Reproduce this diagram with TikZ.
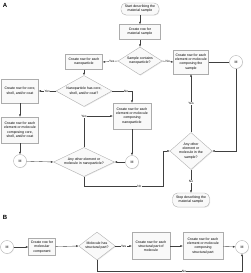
\documentclass[tikz,border=0pt]{standalone}
\usepackage{fontspec}
\setmainfont{Liberation Sans}
\usetikzlibrary{shapes.geometric,arrows.meta,shadows}
\begin{document}
\begin{tikzpicture}[x=1pt,y=-1pt,
  font=\fontsize{3.5}{4.1}\selectfont,
  shp/.style={draw=gray!65, fill=gray!5, line width=0.35pt, align=center, inner sep=0pt,
    drop shadow={opacity=0.18, shadow xshift=0.7pt, shadow yshift=-0.7pt}},
  box/.style={shp, rectangle},
  pill/.style={shp, rectangle, rounded corners=5pt},
  dia/.style={shp, diamond, aspect=#1},
  dia/.default=2,
  conn/.style={draw=gray!65, fill=white, circle, line width=0.35pt, inner sep=0pt, minimum size=13pt,
    drop shadow={opacity=0.15, shadow xshift=0.6pt, shadow yshift=-0.6pt}},
  arr/.style={draw=black!75, line width=0.35pt, -{Latex[length=2.4pt,width=2pt]}},
  ln/.style={draw=black!75, line width=0.35pt},
  lab/.style={fill=white, inner sep=0.4pt, font=\fontsize{3.2}{3.7}\selectfont},
  sec/.style={font=\fontsize{6}{7}\selectfont\bfseries, inner sep=0pt}
]
\useasboundingbox (0,0) rectangle (250,273);

% Section A
\node[sec] (lA) at (5,5) {A};
\node[pill, minimum width=38pt, minimum height=12pt] (start) at (140,9) {Start describing the\\material sample};
\node[box, minimum width=41pt, minimum height=15pt] (mat) at (140,32) {Create row for\\material sample};
\node[dia=2, minimum width=44pt, minimum height=28pt] (sdia) at (140,61) {Sample contains\\nanoparticle?};
\node[box, minimum width=35pt, minimum height=24pt] (elem) at (191,62) {Create row for each\\element or molecule\\composing the\\sample};
\node[conn] (M1) at (236,62) {M};
\node[dia=1.2, minimum width=40pt, minimum height=37pt] (adia) at (191,151) {Any other\\element or\\molecule in the\\sample?};
\node[pill, minimum width=37pt, minimum height=14pt] (stop) at (191,200) {Stop describing the\\material sample};

\node[box, minimum width=37pt, minimum height=15pt] (npbox) at (84,62) {Create row for each\\nanoparticle};
\node[dia=2.2, minimum width=56pt, minimum height=31pt] (npdia) at (84,91) {Nanoparticle has core,\\shell, and/or coat?};
\node[box, minimum width=37pt, minimum height=24pt] (csc) at (20,91) {Create row for core,\\shell, and/or coat};
\node[box, minimum width=38pt, minimum height=26pt] (npel) at (132,116) {Create row for each\\element or molecule\\composing\\nanoparticle};
\node[box, minimum width=37pt, minimum height=26pt] (cscel) at (20,130) {Create row for each\\element or molecule\\composing core,\\shell, and/or coat};
\node[conn] (M2) at (20,161) {M};
\node[dia=2.4, minimum width=61pt, minimum height=29pt] (npedia) at (84,162) {Any other element or\\molecule in nanoparticle?};
\node[conn] (M3) at (132,162) {M};

\coordinate (w1) at (84,186);
\coordinate (w2) at (163,186);

\draw[arr] (start) -- (mat);
\draw[arr] (mat) -- (sdia);
\draw[arr] (sdia.west) -- node[lab, pos=0.4] {Yes} (npbox.east);
\draw[arr] (sdia.east) -- node[lab, pos=0.5] {No} (elem.west);
\draw[ln] (elem.east) -- (M1.west);
\draw[arr] (M1.south) |- (adia.east);
\draw[arr] (adia.north) -- node[lab, pos=0.5] {Yes} (elem.south);
\draw[arr] (adia.south) -- node[lab, pos=0.5] {No} (stop.north);

\draw[arr] (npbox) -- (npdia);
\draw[arr] (npdia.west) -- node[lab, pos=0.5] {Yes} (csc.east);
\draw[arr] (npdia.east) -| node[lab, pos=0.35] {No} (npel.north);
\draw[arr] (csc) -- (cscel);
\draw[arr] (cscel) -- (M2);
\draw[arr] (M2) -- (npedia.west);
\draw[arr] (npel) -- (M3);
\draw[arr] (M3) -- (npedia.east);
\draw[arr] (npedia.north) |- node[lab, pos=0.5] {Yes} (npel.west);
\draw[arr] (npedia.south) -- (w1) -- node[lab, pos=0.7] {No} (w2) |- (adia.west);

% Section B
\node[sec] (lB) at (5,217) {B};
\node[conn] (MB1) at (7,247) {M};
\node[box, minimum width=27pt, minimum height=17pt] (molc) at (42,247) {Create row for\\molecular\\component};
\node[dia=1.8, minimum width=35pt, minimum height=28pt] (mdia) at (97,246) {Molecule has\\structural part?};
\node[box, minimum width=38pt, minimum height=27pt] (spart) at (151,246) {Create row for each\\structural part of\\molecule};
\node[box, minimum width=40pt, minimum height=27pt] (spel) at (203,246) {Create row for each\\element or molecule\\composing\\structural part};
\node[conn] (MB2) at (242,247) {M};
\coordinate (w3) at (97,271);

\draw[arr] (MB1) -- (molc);
\draw[arr] (molc) -- (mdia.west);
\draw[arr] (mdia.east) -- node[lab, pos=0.5] {Yes} (spart.west);
\draw[arr] (spart) -- (spel);
\draw[arr] (spel) -- (MB2);
\draw[arr] (mdia.south) -- (w3) -| node[lab, pos=0.3] {No} (MB2.south);
\end{tikzpicture}
\end{document}
